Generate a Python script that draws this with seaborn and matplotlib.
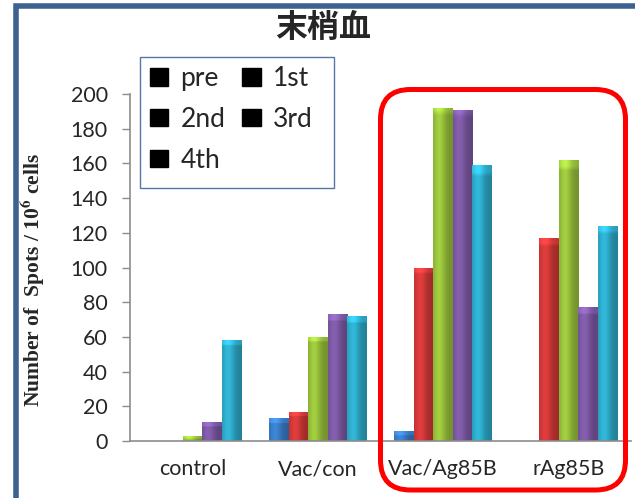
import numpy as np
import pandas as pd
import matplotlib
matplotlib.use("Agg")
import matplotlib.pyplot as plt
import seaborn as sns
from matplotlib.patches import Patch, Rectangle, FancyBboxPatch
from matplotlib.transforms import IdentityTransform
from matplotlib.colors import to_rgb

# ELISPOT counts per group at each sampling point
groups = ["control", "Vac/con", "Vac/Ag85B", "rAg85B"]
timepoints = ["pre", "1st", "2nd", "3rd", "4th"]
pre = [0, 13, 6, 0]
first = [0, 17, 100, 117]
second = [3, 60, 192, 162]
third = [11, 73, 191, 77]
fourth = [58, 72, 159, 124]
series = [pre, first, second, third, fourth]
colors = ["#3c7fcc", "#d63a3a", "#9bc53d", "#7f5ba7", "#2fafcf"]
yticks = [0, 20, 40, 60, 80, 100, 120, 140, 160, 180, 200]

df = pd.DataFrame(
    [(g, t, v) for t, vals in zip(timepoints, series) for g, v in zip(groups, vals)],
    columns=["group", "time", "spots"],
)

sns.set_style("white")
plt.rcParams["font.family"] = ["Lato", "DejaVu Sans"]

W, H = 635, 498
fig = plt.figure(figsize=(W / 100, H / 100), dpi=100)
ax = fig.add_axes([130 / W, 1 - 441 / H, (631 - 130) / W, (441 - 94) / H])

sns.barplot(
    data=df, x="group", y="spots", hue="time", order=groups, hue_order=timepoints,
    palette=colors, width=0.78, saturation=1, errorbar=None, legend=False, ax=ax,
    linewidth=0,
)

# cylindrical shading on every bar
cap = 2.8
for patch in list(ax.patches):
    h = patch.get_height()
    if h <= 0:
        continue
    x0, w = patch.get_x(), patch.get_width()
    base = np.array(to_rgb(patch.get_facecolor()))
    nx, ny = 40, 60
    t = np.linspace(0, 1, nx)
    prof = 0.82 + 0.26 * np.exp(-((t - 0.32) / 0.3) ** 2) - 0.08 * t
    yy = np.linspace(0, h, ny)
    img = np.empty((ny, nx, 3))
    for j, yv in enumerate(yy):
        f = prof.copy()
        if h - yv < min(cap, h * 0.6):
            f = f * 1.12 + 0.06
        img[j] = np.clip(base[None, :] * f[:, None], 0, 1)
    im = ax.imshow(img, extent=(x0, x0 + w, 0, h), origin="lower",
                   aspect="auto", interpolation="bilinear", zorder=patch.get_zorder() + 0.1)
    im.set_clip_path(patch)

ax.set_xlim(-0.5, 3.5)
ax.set_ylim(0, 200)
ax.set_yticks(yticks)
ax.set_xlabel("")
ax.set_ylabel("")
for side in ["top", "right"]:
    ax.spines[side].set_visible(False)
for side in ["left", "bottom"]:
    ax.spines[side].set_color("#8c8c8c")
    ax.spines[side].set_linewidth(1.2)
ax.tick_params(axis="y", direction="out", length=6, width=1, color="#8c8c8c",
               labelsize=15.5, pad=10, left=True)
ax.tick_params(axis="x", length=0, labelsize=15.5, pad=13)
ax.grid(False)

# y-axis title
fig.text(33 / W, 1 - 280 / H, r"Number of  Spots / 10$^{\mathbf{6}}$ cells", rotation=90,
         ha="center", va="center", fontsize=15.5, fontweight="bold",
         family=["Liberation Serif"], math_fontfamily="stix")

# chart title
fig.text(323 / W, 1 - 28 / H, "末梢血", ha="center", va="center", fontsize=23,
         fontweight="bold", family=["Noto Sans CJK JP", "DejaVu Sans"])

# legend with black swatches, framed by a separate box
order = [0, 2, 4, 1, 3]
handles = [Patch(facecolor="black", edgecolor="black") for _ in order]
labels = [timepoints[i] for i in order]
leg = fig.legend(handles, labels, loc="upper left", ncol=2,
                 bbox_to_anchor=(150 / W, 1 - 66 / H), bbox_transform=fig.transFigure,
                 borderaxespad=0, fontsize=19, frameon=False,
                 handlelength=0.7, handleheight=0.65, handletextpad=0.45,
                 labelspacing=0.6, columnspacing=0.65, borderpad=0.0)
fig.patches.append(Rectangle((139.5, H - 188), 334 - 139.5, 188 - 57,
                             transform=IdentityTransform(), fill=False,
                             edgecolor="#5577a8", linewidth=1.0, zorder=4))

# outer frame
fig.patches.append(Rectangle((15.5, -20), 700, H - 5.5 + 20, transform=IdentityTransform(),
                             fill=False, edgecolor="#3d6190", linewidth=4, zorder=0))

# highlight around the two vaccinated-antigen groups
fig.patches.append(FancyBboxPatch((380.5, H - 490), 625.5 - 380.5, 490 - 89.5,
                                  boxstyle="round,pad=0,rounding_size=30",
                                  transform=IdentityTransform(), fill=False,
                                  edgecolor="#ff0000", linewidth=3.6, zorder=5))

fig.savefig("out.png", dpi=100)
